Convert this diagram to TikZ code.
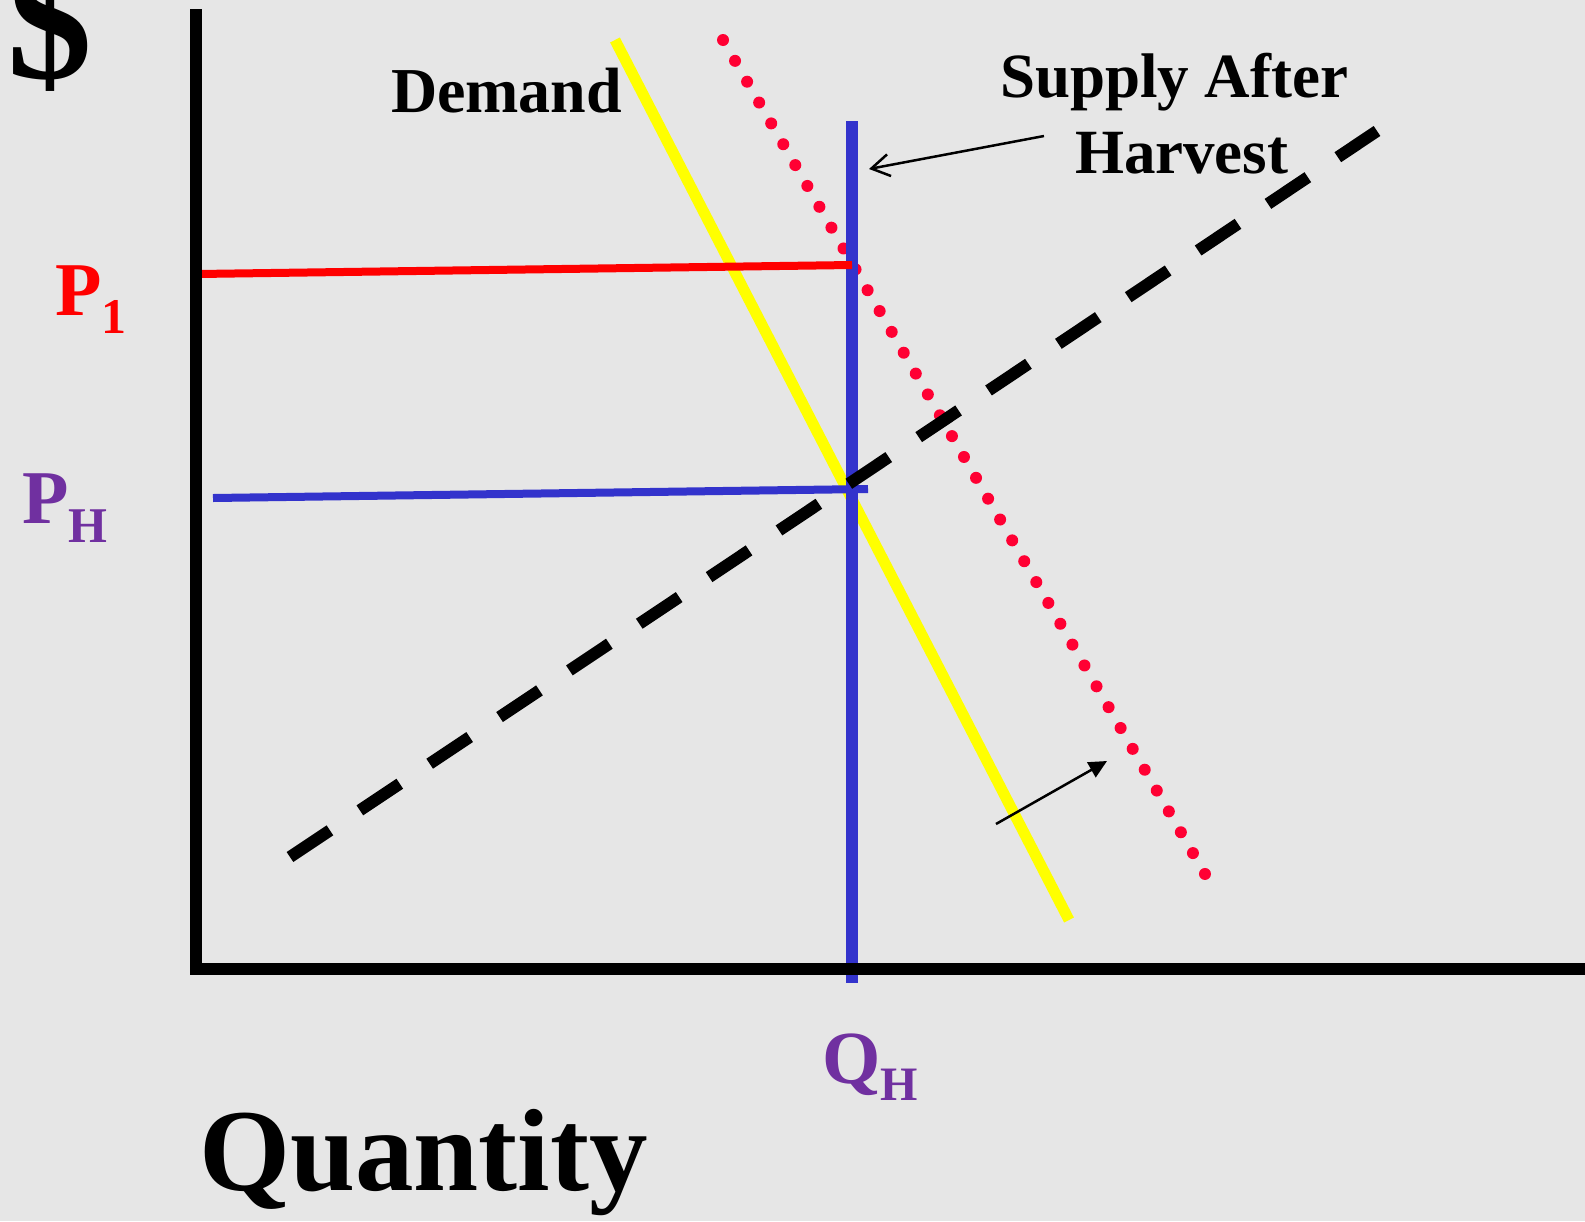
\documentclass[tikz,border=0pt]{standalone}
\usepackage{fontspec}
\setmainfont{Liberation Serif}
\usetikzlibrary{arrows.meta}
\definecolor{bgc}{HTML}{E6E6E6}
\definecolor{dotred}{HTML}{FF0033}
\definecolor{lineblue}{HTML}{3333CC}
\definecolor{purp}{HTML}{7030A0}
\definecolor{yel}{HTML}{FFFF00}
\tikzset{
  lbl/.style={inner sep=0pt, outer sep=0pt, anchor=base west, font=\bfseries},
  axisline/.style={line width=12pt, black, line cap=butt},
  thinarrow/.style={line width=2.5pt, black},
}
\newcommand{\fsz}[1]{\fontsize{#1}{#1}\selectfont}
\begin{document}
\begin{tikzpicture}[x=1pt,y=-1pt]
\fill[bgc] (0,0) rectangle (1585,1221);
\useasboundingbox (0,0) rectangle (1585,1221);

% coordinates
\coordinate (ytop) at (196,9);
\coordinate (orig) at (196,969);
\coordinate (xend) at (1585,969);
\coordinate (dA) at (615,40);
\coordinate (dB) at (1069,920);
\coordinate (sA) at (723,40);
\coordinate (sB) at (1205,874);
\coordinate (hA) at (290,857);
\coordinate (hB) at (1377,131);
\coordinate (qTop) at (852,121);
\coordinate (qBot) at (852,983);
\coordinate (p1L) at (198,274);
\coordinate (p1R) at (852,265);
\coordinate (phL) at (213,498);
\coordinate (phR) at (868,489);
\coordinate (a1tail) at (1044,136);
\coordinate (a1tip) at (869,169);
\coordinate (a2tail) at (996,824);
\coordinate (a2tip) at (1107,761);

% labels
\node[lbl, font=\bfseries\fsz{170}] (dollar) at (8,78) {\$};
\node[lbl, font=\bfseries\fsz{64}] (demand) at (391,112) {Demand};
\node[lbl, font=\bfseries\fsz{63}] (supA) at (1000,97) {Supply After};
\node[lbl, font=\bfseries\fsz{63}] (supB) at (1075,173) {Harvest};
\node[lbl, font=\bfseries\fsz{117}] (quant) at (199,1190) {Quantity};
\node[lbl, red, font=\bfseries\fsz{76}] (p1) at (55,315) {P\raisebox{-18pt}{\fsz{50}1}};
\node[lbl, purp, font=\bfseries\fsz{76}] (ph) at (22,523) {P\raisebox{-19pt}{\fsz{50}H}};
\node[lbl, purp, font=\bfseries\fsz{75}] (qh) at (822,1083) {Q\raisebox{-17pt}{\fsz{48}H}};

% curves
\draw[yel, line width=11pt] (dA) -- (dB);
\draw[dotred, line width=12pt, line cap=round, dash pattern=on 0pt off 24.08pt] (sA) -- (sB);
\draw[lineblue, line width=12pt] (qTop) -- (qBot);
\draw[red, line width=8pt] (p1L) -- (p1R);
\draw[lineblue, line width=8pt] (phL) -- (phR);
\draw[black, line width=12pt, dash pattern=on 48pt off 36pt] (hA) -- (hB);

% axes
\draw[axisline] (ytop) -- (orig);
\draw[axisline] ([xshift=-6pt]orig) -- (xend);

% arrows
\draw[thinarrow, -{Straight Barb[length=18pt,width=22pt,line width=2.5pt]}] (a1tail) -- (a1tip);
\draw[thinarrow, -{Triangle[length=18pt,width=17pt]}] (a2tail) -- (a2tip);
\end{tikzpicture}
\end{document}
